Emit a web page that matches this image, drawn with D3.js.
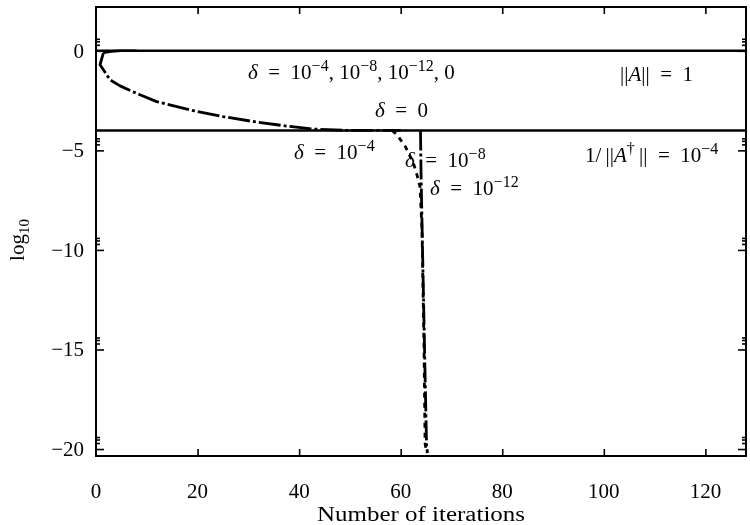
<!DOCTYPE html>
<html><head><meta charset="utf-8">
<script src="https://cdn.jsdelivr.net/npm/d3@7"></script>
<style>body{margin:0;background:#fff}svg{display:block;will-change:transform}text{font-family:"Liberation Serif","DejaVu Serif",serif;fill:#000}</style>
</head><body><svg id="c" width="750" height="525"></svg>
<script>
// ---- data ----
const xTicks = [0, 20, 40, 60, 80, 100, 120];
const yTicks = [0, -5, -10, -15, -20];
const refNorm = [[0, 0], [128, 0]];            // ||A|| = 1
const refInv  = [[0, -4], [128, -4]];          // 1/||A^+|| = 1e-4
const sigMaxStart = [[1.4, -0.1], [3, -0.03], [5, 0], [8, 0]];
const delta4 = [[1.44,-0.12],[0.79,-0.70],[2.76,-1.46],[4.73,-1.76],[8.66,-2.21],[11.95,-2.55],[18.5,-2.97],[25.0,-3.30],[31.6,-3.58],[38.2,-3.80],[42.7,-3.93],[49.4,-4.0],[60,-4.0]];
const delta8 = [[58.3,-4.0],[59.2,-4.2],[60.9,-4.8],[62.5,-5.64],[63.2,-6.23],[63.8,-6.82],[64.2,-9.0],[64.6,-15.0],[64.8,-19.7],[65.1,-20.2]];
const delta12 = [[63.9,-4.0],[64.0,-6.0],[64.3,-10.0],[64.7,-15.0],[65.1,-19.9],[65.3,-20.2]];

const svg = d3.select("#c");
const L = 96, R = 746, T = 7, B = 456;
const x = d3.scaleLinear().domain([0, 128]).range([L, R]);
const y = d3.scaleLinear().domain([-20.35, 2.2]).range([B, T]);
const line = d3.line().x(d => x(d[0])).y(d => y(d[1]));

const g = svg.append("g");
function path(data, w, dash) {
  g.append("path").datum(data).attr("d", line).attr("fill", "none")
    .attr("stroke", "#000").attr("stroke-width", w)
    .attr("stroke-dasharray", dash || null).attr("stroke-linejoin", "round");
}
path(refNorm, 2.6);
path(refInv, 2.6);
path(sigMaxStart, 2.6);
path(delta4, 2.8, "22,3,3,3");
path(delta8, 2.8, "5,5");
path(delta12, 2.8, "20,3,3,3");

// axes
const ax = svg.append("g");
ax.append("g").attr("transform", `translate(0,${B})`)
  .call(d3.axisBottom(x).tickValues(xTicks.slice(1)).tickSize(-7).tickFormat(""));
ax.append("g").attr("transform", `translate(0,${T})`)
  .call(d3.axisTop(x).tickValues(xTicks.slice(1)).tickSize(-7).tickFormat(""));
const minor = [];
yTicks.forEach(v => [2, 3, 4].forEach(k => minor.push(v + Math.log10(k))));
ax.append("g").attr("transform", `translate(${L},0)`).call(d3.axisLeft(y).tickValues(yTicks).tickSize(-8).tickFormat(""));
ax.append("g").attr("transform", `translate(${L},0)`).call(d3.axisLeft(y).tickValues(minor).tickSize(-4).tickFormat(""));
ax.append("g").attr("transform", `translate(${R},0)`).call(d3.axisRight(y).tickValues(yTicks).tickSize(-8).tickFormat(""));
ax.append("g").attr("transform", `translate(${R},0)`).call(d3.axisRight(y).tickValues(minor).tickSize(-4).tickFormat(""));
ax.selectAll(".domain").remove();
ax.selectAll(".tick line").attr("stroke", "#000").attr("stroke-width", 1.6);
svg.append("rect").attr("x", L).attr("y", T).attr("width", R - L).attr("height", B - T)
  .attr("fill", "none").attr("stroke", "#000").attr("stroke-width", 2);

// tick labels
const fs = 21;
xTicks.forEach(v => svg.append("text").attr("x", x(v)).attr("y", 498).attr("text-anchor", "middle")
  .attr("font-size", fs).text(v));
yTicks.forEach(v => svg.append("text").attr("x", 84).attr("y", y(v) + 7).attr("text-anchor", "end")
  .attr("font-size", fs).text(v === 0 ? "0" : "\u2212" + Math.abs(v)));
svg.append("text").attr("x", 317).attr("y", 521).attr("font-size", 20)
  .attr("textLength", 208).attr("lengthAdjust", "spacingAndGlyphs")
  .text("Number of iterations");
const yt = svg.append("text").attr("transform", "translate(24,240) rotate(-90)").attr("text-anchor", "middle").attr("font-size", fs);
yt.append("tspan").text("log");
yt.append("tspan").attr("font-size", 15).attr("dy", 5).text("10");

// annotations
const EQ = "\u2002=\u2002";
function ann(px, py, parts) {
  const t = svg.append("text").attr("x", px).attr("y", py).attr("font-size", fs);
  parts.forEach(p => {
    const s = t.append("tspan").text(p.t);
    if (p.sup) s.attr("font-size", 16).attr("dy", -8);
    if (p.down) s.attr("dy", 8);
    if (p.i) s.attr("font-style", "italic");
  });
}
ann(248, 79, [{t:"δ", i:1},{t:EQ + "10"},{t:"−4", sup:1},{t:", 10", down:1},{t:"−8", sup:1},{t:", 10", down:1},{t:"−12", sup:1},{t:", 0", down:1}]);
ann(620, 81, [{t:"||"},{t:"A", i:1},{t:"||" + EQ + "1"}]);
ann(375, 117, [{t:"δ", i:1},{t:EQ + "0"}]);
ann(294, 159, [{t:"δ", i:1},{t:EQ + "10"},{t:"−4", sup:1}]);
ann(405, 167, [{t:"δ", i:1},{t:EQ + "10"},{t:"−8", sup:1}]);
ann(430, 195, [{t:"δ", i:1},{t:EQ + "10"},{t:"−12", sup:1}]);
ann(585, 162, [{t:"1/\u2009||"},{t:"A", i:1},{t:"†", sup:1},{t:"\u2009||" + EQ + "10", down:1},{t:"−4", sup:1}]);
</script></body></html>
